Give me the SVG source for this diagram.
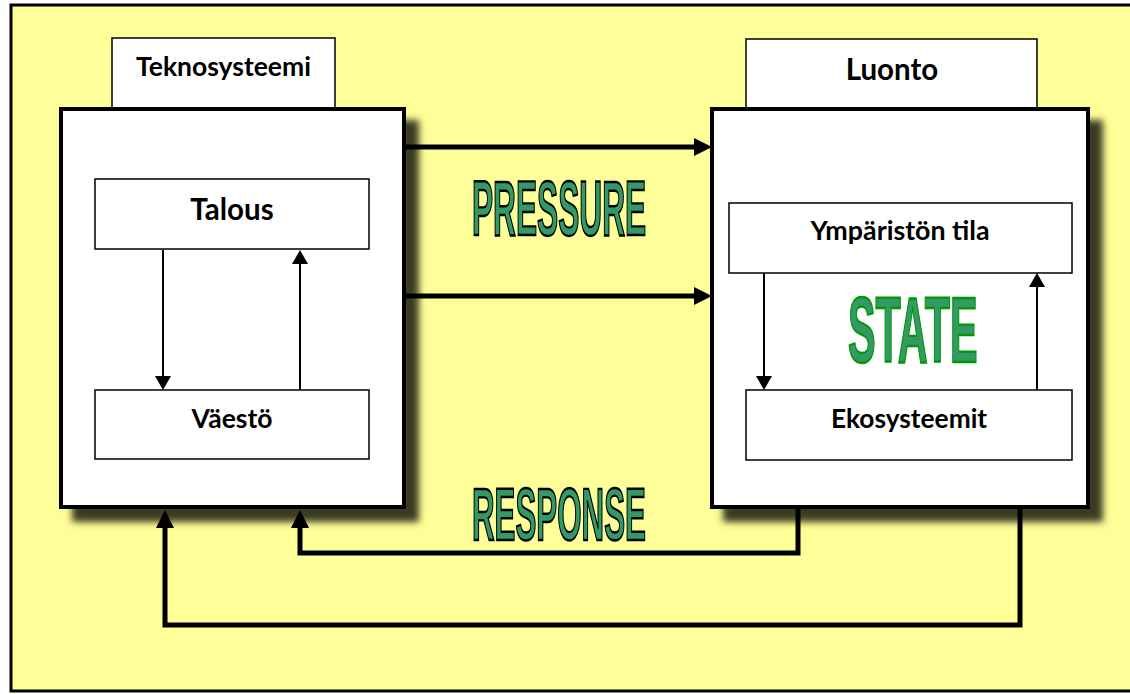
<svg xmlns="http://www.w3.org/2000/svg" width="1130" height="694" viewBox="0 0 1130 694">
<style>
.frame{fill:#FFFF99;stroke:#000;stroke-width:3}
.tab{fill:#fff;stroke:#000;stroke-width:1.5}
.main{fill:#fff;stroke:#000;stroke-width:4}
.inner{fill:#fff;stroke:#000;stroke-width:1.5}
.lbl{font-family:Lato,"Open Sans","Liberation Sans",sans-serif;font-weight:bold;fill:#000;text-anchor:middle}
.big{font-family:"Liberation Sans",Arial,sans-serif;font-weight:bold;fill:#339966;stroke:#000;stroke-width:1.8;vector-effect:non-scaling-stroke}
.state{stroke:#009900}
.thick{fill:none;stroke:#000;stroke-width:5}
.thin{fill:none;stroke:#000;stroke-width:2}
</style>
<defs>
<filter id="shadow" x="-10%" y="-10%" width="130%" height="130%">
<feDropShadow dx="13" dy="13" stdDeviation="3.5" flood-color="#3a3a24" flood-opacity="1"/>
</filter>
<marker id="ah" markerUnits="userSpaceOnUse" markerWidth="18" markerHeight="18" refX="8" refY="9" orient="auto">
<path d="M0,0 L18,9 L0,18 z" fill="#000"/>
</marker>
<marker id="ahs" markerUnits="userSpaceOnUse" markerWidth="14" markerHeight="16" refX="6" refY="8" orient="auto">
<path d="M0,0 L14,8 L0,16 z" fill="#000"/>
</marker>
</defs>
<rect class="frame" x="11" y="5" width="1125" height="686"/>

<g id="teknosysteemi">
<rect class="tab" x="112" y="38" width="223" height="71"/>
<text class="lbl" x="223.5" y="76" font-size="26.5">Teknosysteemi</text>
<rect class="main" x="61" y="109" width="343" height="398" filter="url(#shadow)"/>
</g>
<g id="talous">
<rect class="inner" x="95" y="179" width="274" height="70"/>
<text class="lbl" x="232" y="220" font-size="29.5">Talous</text>
</g>
<g id="vaesto">
<rect class="inner" x="95" y="390" width="274" height="69"/>
<text class="lbl" x="232" y="428" font-size="26.5">Väestö</text>
</g>

<g id="luonto">
<rect class="tab" x="746" y="39" width="291" height="70"/>
<text class="lbl" x="892" y="80" font-size="29.5">Luonto</text>
<rect class="main" x="712" y="109" width="376" height="398" filter="url(#shadow)"/>
</g>
<g id="ymparisto">
<rect class="inner" x="729" y="203" width="343" height="70"/>
<text class="lbl" x="900" y="240" font-size="26.8">Ympäristön tila</text>
</g>
<g id="ekosysteemit">
<rect class="inner" x="746" y="390" width="326" height="70"/>
<text class="lbl" x="909" y="428" font-size="26.3">Ekosysteemit</text>
</g>

<g id="labels">
<text class="big" transform="translate(472,235) scale(0.411,1)" font-size="77">PRESSURE</text>
<text class="big state" transform="translate(848,362) scale(0.45,1)" font-size="92">STATE</text>
<text class="big" transform="translate(472,540) scale(0.423,1)" font-size="74">RESPONSE</text>
</g>

<g id="connectors">
<path class="thick" d="M406,147 H702" marker-end="url(#ah)"/>
<path class="thick" d="M406,296 H702" marker-end="url(#ah)"/>
<path class="thick" d="M798,509 V553 H300 V520" marker-end="url(#ah)"/>
<path class="thick" d="M1020,509 V625 H165 V520" marker-end="url(#ah)"/>
<path class="thin" d="M163,250 V382" marker-end="url(#ahs)"/>
<path class="thin" d="M300,390 V258" marker-end="url(#ahs)"/>
<path class="thin" d="M764,273 V382" marker-end="url(#ahs)"/>
<path class="thin" d="M1037,390 V281" marker-end="url(#ahs)"/>
</g>
</svg>
